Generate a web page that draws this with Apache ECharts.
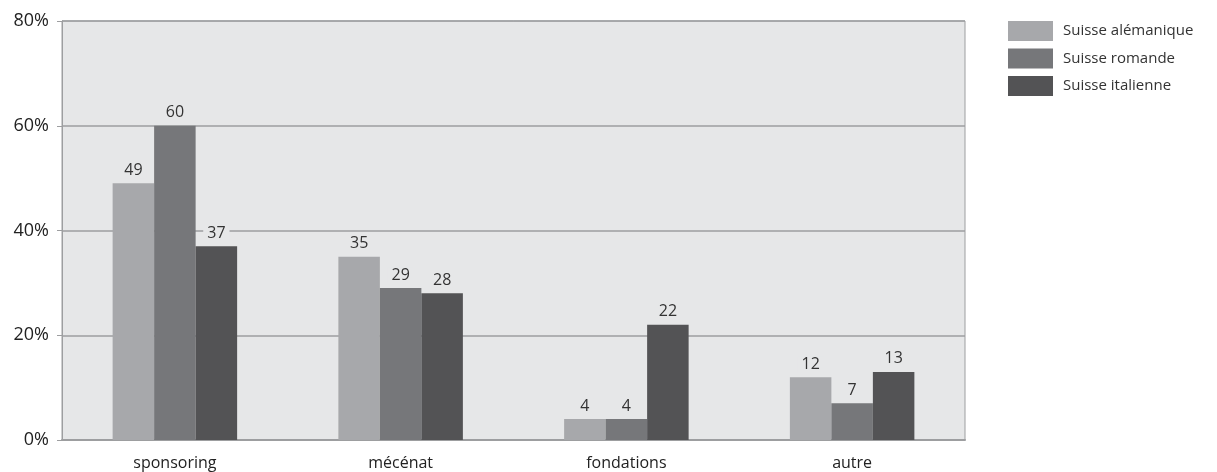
<!DOCTYPE html>
<html>
<head>
<meta charset="utf-8">
<script src="https://cdn.jsdelivr.net/npm/echarts@6/dist/echarts.min.js"></script>
<style>
  html, body { margin: 0; padding: 0; background: #ffffff; }
  #chart { width: 1217px; height: 472px; }
</style>
</head>
<body>
<div id="chart"></div>
<script>
// Categories and values (percent) per language region
const categories = ['sponsoring', 'mécénat', 'fondations', 'autre'];
const seriesNames = ['Suisse alémanique', 'Suisse romande', 'Suisse italienne'];
const alemanique = [49, 35, 4, 12];
const romande = [60, 29, 4, 7];
const italienne = [37, 28, 22, 13];
const yTicks = [0, 20, 40, 60, 80];

const colors = ['#a7a8ab', '#76777a', '#535355'];
const fontFamily = '"Open Sans", "DejaVu Sans", sans-serif';
const panelColor = '#e6e7e8';
const lineColor = '#9d9ea0';

function barSeries(name, data, color) {
  return {
    name: name,
    type: 'bar',
    data: data,
    barWidth: 41.5,
    barGap: '0%',
    itemStyle: { color: color },
    label: {
      show: true,
      position: 'top',
      distance: 5,
      color: '#333333',
      fontSize: 16,
      fontFamily: fontFamily,
      backgroundColor: panelColor,
      padding: [0, 4]
    }
  };
}

const chart = echarts.init(document.getElementById('chart'));
chart.setOption({
  animation: false,
  color: colors,
  grid: {
    left: 62, top: 21, width: 903, height: 419,
    show: true,
    backgroundColor: panelColor,
    borderColor: lineColor,
    borderWidth: 1
  },
  legend: {
    orient: 'vertical',
    left: 1008,
    top: 21,
    padding: 0,
    itemWidth: 45,
    itemHeight: 20,
    itemGap: 7.5,
    icon: 'rect',
    textStyle: { color: '#333333', fontSize: 15, fontFamily: fontFamily, padding: [0, 0, 0, 5] },
    data: seriesNames
  },
  xAxis: {
    type: 'category',
    data: categories,
    axisLine: { show: true, lineStyle: { color: lineColor, width: 2 } },
    axisTick: { show: false },
    axisLabel: { color: '#222222', fontSize: 16, fontFamily: fontFamily, margin: 15 }
  },
  yAxis: {
    type: 'value',
    min: yTicks[0],
    max: yTicks[yTicks.length - 1],
    interval: 20,
    axisLine: { show: true, lineStyle: { color: lineColor, width: 1 } },
    axisTick: { show: true, inside: false, length: 5, lineStyle: { color: lineColor } },
    axisLabel: {
      color: '#222222', fontSize: 18, fontFamily: fontFamily, margin: 13,
      formatter: v => v + '%'
    },
    splitLine: { show: true, lineStyle: { color: lineColor, width: 1.5 } }
  },
  series: [
    barSeries(seriesNames[0], alemanique, colors[0]),
    barSeries(seriesNames[1], romande, colors[1]),
    barSeries(seriesNames[2], italienne, colors[2])
  ]
});
</script>
</body>
</html>
